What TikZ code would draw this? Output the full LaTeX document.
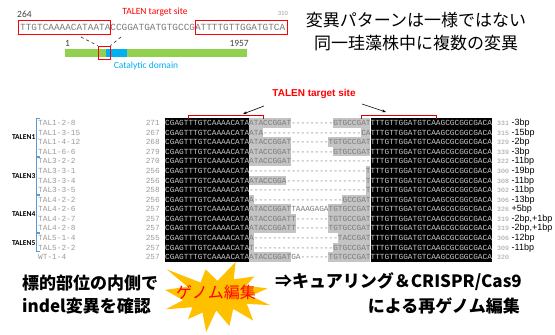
\documentclass[tikz,border=0pt]{standalone}
\usepackage{fontspec}
\setmainfont{Liberation Sans}
\setmonofont{Liberation Mono}
\newfontfamily\jp{Noto Sans CJK JP}
\newfontfamily\calib{Carlito}
\usetikzlibrary{arrows.meta}
\definecolor{tgreen}{HTML}{92D050}
\definecolor{tblue}{HTML}{00B0F0}
\definecolor{bracketblue}{HTML}{5B9BD5}
\definecolor{seqgray}{HTML}{7A7A7A}
\definecolor{seqlight}{HTML}{C8C8C8}
\definecolor{hlgray}{HTML}{C4C4C4}
\definecolor{namegray}{HTML}{9A9A9A}
\definecolor{stary}{HTML}{FFC000}
\definecolor{darktxt}{HTML}{404040}
\tikzset{
  seq/.style={font=\ttfamily\fontsize{7.78}{9}\selectfont, inner sep=0pt},
  numsmall/.style={font=\ttfamily\fontsize{6.5}{8}\selectfont, inner sep=0pt},
  grp/.style={font=\calib\bfseries\fontsize{7.5}{9}\selectfont, inner sep=0pt, anchor=east},
  brk/.style={draw=bracketblue, line width=0.8pt},
  redbox/.style={draw=red, line width=0.8pt, inner sep=0pt},
  lab/.style={font=\fontsize{9}{10}\selectfont, inner sep=0pt, anchor=west},
  caltxt/.style={font=\calib\fontsize{9.5}{11}\selectfont, inner sep=0pt},
  jptitle/.style={font=\jp\fontsize{17}{20}\selectfont, inner sep=0pt},
  jpbold/.style={font=\jp\bfseries\fontsize{17}{20}\selectfont, inner sep=0pt},
  redbrk/.style={draw=red!85!black, line width=0.8pt},
  pointer/.style={draw=black, line width=0.6pt, -{Stealth[length=4pt,width=3pt]}},
}
\begin{document}
\begin{tikzpicture}[x=1pt,y=-1pt]
\useasboundingbox (0,0) rectangle (555,335);

% ---------- top-left: target site and protein bar ----------
\node[caltxt, text=darktxt, anchor=west] (n264) at (17,14) {264};
\node[caltxt, text=red] (tts) at (155,12) {TALEN target site};
\node[font=\calib\fontsize{6.5}{8}\selectfont, text=namegray, inner sep=0pt, anchor=east] (n310) at (288,13) {310};
\node[font=\ttfamily\fontsize{9.4}{11}\selectfont, text=seqgray, inner sep=0pt, anchor=base west] (topseq) at (20,30.8) {TTGTCAAAACATAATACCGGATGATGTGCCGATTTTGTTGGATGTCA};
\node[redbox, minimum width=92.5pt, minimum height=13.5pt] (box1) at (64.2,27.2) {};
\node[redbox, minimum width=92pt, minimum height=13.5pt] (box2) at (241,27.2) {};

\fill[tgreen] (65,49) rectangle (247,57);
\fill[tblue] (106,49) rectangle (127,57);
\node[redbox, minimum width=12pt, minimum height=13pt] (cbox) at (104,52.5) {};
\coordinate (dl) at (81,37);
\coordinate (dr) at (121,37);
\draw[dashed, darktxt, line width=0.7pt] (dl) -- (cbox.north west);
\draw[dashed, darktxt, line width=0.7pt] (dr) -- (cbox.north east);
\node[caltxt, text=darktxt, anchor=west] (n1) at (65,43) {1};
\node[caltxt, text=darktxt, anchor=east] (n1957) at (249,43) {1957};
\node[caltxt, text=tblue] (catd) at (146,66) {Catalytic domain};

% ---------- top-right title ----------
\node[jptitle] (t1) at (416,20) {変異パターンは一様ではない};
\node[jptitle] (t2) at (416,43) {同一珪藻株中に複数の変異};

% ---------- alignment ----------
\node[font=\bfseries\fontsize{10}{12}\selectfont, text=red, inner sep=0pt] (tts2) at (314,94) {TALEN target site};
\coordinate (aLs) at (264,106);
\coordinate (aLe) at (243,114);
\coordinate (aRs) at (362,104);
\coordinate (aRe) at (386,112);
\draw[pointer] (aLs) -- (aLe);
\draw[pointer] (aRs) -- (aRe);

% highlights
\foreach \i/\a/\b in {1/19/27,1/37/44,2/19/21,2/43/44,3/19/27,3/36/44,4/19/27,4/37/44,5/19/27,6/44/44,7/19/26,7/44/44,8/44/44,9/19/19,9/39/44,10/19/27,10/36/44,11/19/28,11/36/44,12/19/28,12/36/44,13/19/19,13/38/44,14/19/19,14/37/44,15/19/27,15/36/44}
  \fill[hlgray] ({165+(\a-1)*4.67},{118.2+(\i-1)*9.57}) rectangle ({165+\b*4.67},{118.2+\i*9.57});
\fill[black] (165,118.2) rectangle (249.06,261.75);
\fill[black] (370.5,118.2) rectangle (491.9,261.75);

% red brackets
\draw[redbrk] (188.4,119) -- (188.4,115.5) -- (263,115.5) -- (263,119);
\draw[redbrk] (361.2,119) -- (361.2,115.5) -- (435.9,115.5) -- (435.9,119);

\foreach \i/\nm/\st/\sq/\en/\lb in {
1/TAL1-2-8/271/ATACCGGAT---------GTGCCGAT/331/-3bp,
2/TAL1-3-15/267/ATA---------------------CA/315/-15bp,
3/TAL1-4-12/268/ATACCGGAT--------TGTGCCGAT/329/-2bp,
4/TAL1-6-6/279/ATACCGGAT---------GTGCCGAT/339/-3bp,
5/TAL3-2-2/270/ATACCGGAT-----------------/322/-11bp,
6/TAL3-3-1/256/-------------------------T/300/-19bp,
7/TAL3-3-4/256/ATACCGGA-----------------T/308/-11bp,
8/TAL3-3-5/258/-------------------------T/302/-11bp,
9/TAL4-2-2/256/A-------------------GCCGAT/306/-13bp,
10/TAL4-2-6/257/ATACCGGATTAAAGAGATGTGCCGAT/326/+5bp,
11/TAL4-2-7/257/ATACCGGATT-------TGTGCCGAT/319/{-2bp,+1bp},
12/TAL4-2-8/257/ATACCGGATT-------TGTGCCGAT/319/{-2bp,+1bp},
13/TAL5-1-4/255/A------------------TACCGAT/306/-12bp,
14/TAL5-2-2/257/T-----------------GTGCCGAT/309/-11bp,
15/WT-1-4/257/ATACCGGATGA------TGTGCCGAT/320/{}}
{
  \pgfmathsetmacro\yy{123+(\i-1)*9.57+2.7}
  \node[seq, text=namegray, anchor=base west] (name\i) at (38,\yy) {\nm};
  \node[seq, text=namegray, anchor=base east] (st\i) at (160,\yy) {\st};
  \node[seq, anchor=base west] (seq\i) at (165,\yy) {\textcolor{seqlight}{CGAGTTTGTCAAAACATA}\textcolor{seqgray}{\sq}\textcolor{seqlight}{TTTGTTGGATGTCAAGCGCGGCGACA}};
  \node[numsmall, text=namegray, anchor=base west] (en\i) at (497,\yy) {\en};
  \node[lab, anchor=base west] (lb\i) at (511.5,\yy) {\lb};
}

% group brackets
\draw[brk] (40,118.7) -- (36.5,118.7) -- (36.5,156) -- (40,156);
\draw[brk] (40,157.3) -- (36.5,157.3) -- (36.5,194.3) -- (40,194.3);
\draw[brk] (40,195.5) -- (36.5,195.5) -- (36.5,232.3) -- (40,232.3);
\draw[brk] (40,233.8) -- (36.5,233.8) -- (36.5,251.5) -- (40,251.5);
\node[grp] (g1) at (35.5,137.4) {TALEN1};
\node[grp] (g3) at (35.5,175.6) {TALEN3};
\node[grp] (g4) at (35.5,213.9) {TALEN4};
\node[grp] (g5) at (35.5,242.6) {TALEN5};

% ---------- bottom ----------
\fill[stary] (217.5,280.8) -- (235.6,262) -- (233.8,279.3) -- (254.3,276.4) -- (246.2,285.7) -- (267.6,288.4) -- (250.6,295.9) -- (270,305.1) -- (246.8,303.9) -- (253.2,320.6) -- (233.2,308.9) -- (229.4,326) -- (216.2,310.4) -- (206.2,332) -- (202.5,312.6) -- (188.1,319.1) -- (192.5,307.2) -- (165.7,309.3) -- (183.1,300.2) -- (165,289.9) -- (187.5,286.7) -- (166.8,269.4) -- (200.5,282.5) -- (205.6,269.4) -- cycle;
\node[font=\jp\fontsize{16}{18}\selectfont, text=red, inner sep=0pt] (gen) at (216,292) {ゲノム編集};

\node[jpbold, anchor=west] (b1) at (22,283) {標的部位の内側で};
\node[jpbold, anchor=west] (b2) at (22,306) {indel変異を確認};
\node[jpbold, anchor=west] (b3) at (275,282) {⇒キュアリング＆CRISPR/Cas9};
\node[jpbold, anchor=east] (b4) at (520,306) {による再ゲノム編集};
\end{tikzpicture}
\end{document}
